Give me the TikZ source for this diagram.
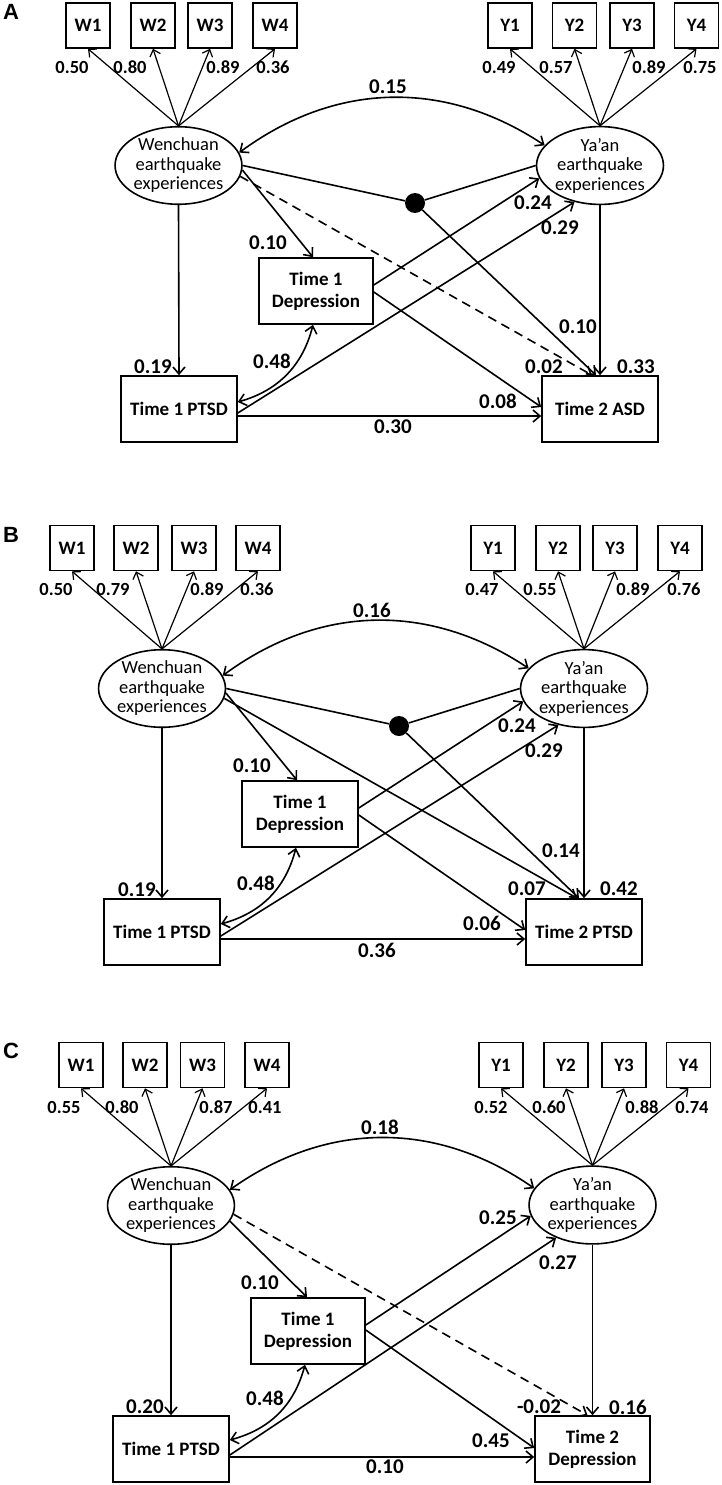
\documentclass[tikz,border=0pt]{standalone}
\usepackage{fontspec}
\setmainfont{Carlito}
\newfontfamily\panelfont{Liberation Sans}
\usetikzlibrary{arrows.meta,shapes.geometric,calc}
\begin{document}
\begin{tikzpicture}[x=1pt,y=-1pt,
  obs/.style={draw,line width=1.6pt,minimum width=44pt,minimum height=45pt,inner sep=0pt,font=\bfseries\fontsize{19}{21}\selectfont},
  lat/.style={draw,ellipse,line width=1.6pt,minimum width=123pt,minimum height=77pt,inner sep=0pt,align=center,font=\fontsize{18.5}{19.5}\selectfont},
  var/.style={draw,line width=1.6pt,minimum width=116pt,minimum height=66pt,inner sep=0pt,align=center,font=\bfseries\fontsize{19}{22}\selectfont},
  ld/.style={inner sep=0pt,font=\bfseries\fontsize{18.5}{18.5}\selectfont},
  cf/.style={inner sep=0pt,font=\bfseries\fontsize{21}{21}\selectfont},
  plab/.style={inner sep=0pt,font=\panelfont\bfseries\fontsize{22}{22}\selectfont},
  dotnode/.style={circle,fill=black,minimum size=20pt,inner sep=0pt},
  load/.style={line width=1.2pt,-{Straight Barb[length=6pt,width=11pt]}},
  pth/.style={line width=1.6pt,-{Straight Barb[length=7pt,width=12pt]}},
  dpth/.style={line width=1.6pt,{Straight Barb[length=7pt,width=12pt]}-{Straight Barb[length=7pt,width=12pt]}},
  plainline/.style={line width=1.6pt},
  dsh/.style={pth,dash pattern=on 9pt off 6pt}
]
\useasboundingbox (0,0) rectangle (721,1485);

%%%%%%%%%%%%%%%% Panel A
\node[plab] (pA) at (11,12) {A};
\node[obs] (aW1) at (88,25.5) {W1};
\node[obs] (aW2) at (153,25.5) {W2};
\node[obs] (aW3) at (210,25.5) {W3};
\node[obs] (aW4) at (275,25.5) {W4};
\node[obs] (aY1) at (510,25.5) {Y1};
\node[obs] (aY2) at (574.5,25.5) {Y2};
\node[obs] (aY3) at (632,25.5) {Y3};
\node[obs] (aY4) at (696.5,25.5) {Y4};
\node[lat] (aWen) at (178.5,165.5) {Wenchuan\\earthquake\\experiences};
\node[lat,minimum width=124pt] (aYa) at (600,165.5) {Ya’an\\earthquake\\experiences};
\node[var,minimum width=114pt] (aDep) at (316,291) {Time 1\\Depression};
\node[var] (aPT) at (179,409) {Time 1 PTSD};
\node[var] (aT2) at (600,409) {Time 2 ASD};
\node[dotnode] (aDot) at (415,203) {};

\foreach \i in {1,...,4} {\draw[load] (aWen.north) -- (aW\i.south); \draw[load] (aYa.north) -- (aY\i.south);}
\draw[dpth] (aWen.12) to[bend left=35] (aYa.160);
\draw[plainline] (aWen.east) -- (aDot);
\draw[plainline] (aDot) -- (aYa.west);
\draw[pth] (aDot) -- ($(aT2.north)+(-4,0)$);
\draw[dsh] (aWen.-10) -- ($(aT2.north)+(-8,0)$);
\draw[pth] (aWen.-4) -- ($(aDep.north)+(-3,0)$);
\draw[pth] (aWen.south) -- (aPT.north);
\draw[dpth] ($(aPT.east)+(0,-7)$) to[bend right=30] ($(aDep.south)+(-3,0)$);
\draw[pth] ($(aPT.east)+(0,4)$) -- (aYa.235);
\draw[pth] ($(aDep.east)+(0,-6)$) -- (aYa.192);
\draw[pth] ($(aDep.east)+(0,1)$) -- ($(aT2.west)+(0,-2)$);
\draw[pth] ($(aPT.east)+(0,7)$) -- ($(aT2.west)+(0,7)$);
\draw[pth] (aYa.south) -- (aT2.north);

\node[ld] (aL1) at (72,67) {0.50};
\node[ld] (aL2) at (130,67) {0.80};
\node[ld] (aL3) at (223,67) {0.89};
\node[ld] (aL4) at (273,67) {0.36};
\node[ld] (aL5) at (499,67) {0.49};
\node[ld] (aL6) at (556,67) {0.57};
\node[ld] (aL7) at (649,67) {0.89};
\node[ld] (aL8) at (700,67) {0.75};
\node[cf] (aC1) at (388,87) {0.15};
\node[cf] (aC2) at (268,243) {0.10};
\node[cf] (aC3) at (533,203) {0.24};
\node[cf] (aC4) at (560,228) {0.29};
\node[cf] (aC5) at (153,367) {0.19};
\node[cf] (aC6) at (272,361) {0.48};
\node[cf] (aC7) at (578,327) {0.10};
\node[cf] (aC8) at (544,367) {0.02};
\node[cf] (aC9) at (636,367) {0.33};
\node[cf] (aC10) at (498,401) {0.08};
\node[cf] (aC11) at (393,427) {0.30};

%%%%%%%%%%%%%%%% Panel B
\node[plab] (pB) at (11,535) {B};
\node[obs] (bW1) at (72,548) {W1};
\node[obs] (bW2) at (136,548) {W2};
\node[obs] (bW3) at (194,548) {W3};
\node[obs] (bW4) at (258,548) {W4};
\node[obs] (bY1) at (493,548) {Y1};
\node[obs] (bY2) at (558,548) {Y2};
\node[obs] (bY3) at (615,548) {Y3};
\node[obs] (bY4) at (680,548) {Y4};
\node[lat] (bWen) at (162,688.5) {Wenchuan\\earthquake\\experiences};
\node[lat,minimum width=124pt] (bYa) at (584,688.5) {Ya’an\\earthquake\\experiences};
\node[var] (bDep) at (300,814) {Time 1\\Depression};
\node[var] (bPT) at (162,932) {Time 1 PTSD};
\node[var] (bT2) at (584,932) {Time 2 PTSD};
\node[dotnode] (bDot) at (399,726) {};

\foreach \i in {1,...,4} {\draw[load] (bWen.north) -- (bW\i.south); \draw[load] (bYa.north) -- (bY\i.south);}
\draw[dpth] (bWen.12) to[bend left=35] (bYa.160);
\draw[plainline] (bWen.east) -- (bDot);
\draw[plainline] (bDot) -- (bYa.west);
\draw[pth] (bDot) -- ($(bT2.north)+(-5,0)$);
\draw[pth] (bWen.-9) -- ($(bT2.north)+(-7,0)$);
\draw[pth] (bWen.-4) -- ($(bDep.north)+(-3,0)$);
\draw[pth] (bWen.south) -- (bPT.north);
\draw[dpth] ($(bPT.east)+(0,-8)$) to[bend right=30] ($(bDep.south)+(-4,0)$);
\draw[pth] ($(bPT.east)+(0,4)$) -- (bYa.235);
\draw[pth] ($(bDep.east)+(0,-6)$) -- (bYa.192);
\draw[pth] ($(bDep.east)+(0,1)$) -- ($(bT2.west)+(0,-2)$);
\draw[pth] ($(bPT.east)+(0,7)$) -- ($(bT2.west)+(0,7)$);
\draw[pth] (bYa.south) -- (bT2.north);

\node[ld] (bL1) at (56,589) {0.50};
\node[ld] (bL2) at (113,589) {0.79};
\node[ld] (bL3) at (207,589) {0.89};
\node[ld] (bL4) at (257,589) {0.36};
\node[ld] (bL5) at (482,589) {0.47};
\node[ld] (bL6) at (540,589) {0.55};
\node[ld] (bL7) at (633,589) {0.89};
\node[ld] (bL8) at (684,589) {0.76};
\node[cf] (bC1) at (372,610) {0.16};
\node[cf] (bC2) at (252,766) {0.10};
\node[cf] (bC3) at (517,726) {0.24};
\node[cf] (bC4) at (544,751) {0.29};
\node[cf] (bC5) at (137,890) {0.19};
\node[cf] (bC6) at (256,883) {0.48};
\node[cf] (bC7) at (561,851) {0.14};
\node[cf] (bC8) at (527,889) {0.07};
\node[cf] (bC9) at (619,889) {0.42};
\node[cf] (bC10) at (482,923) {0.06};
\node[cf] (bC11) at (377,950) {0.36};

%%%%%%%%%%%%%%%% Panel C
\node[plab] (pC) at (11,1051) {C};
\node[obs] (cW1) at (81,1065) {W1};
\node[obs] (cW2) at (145,1065) {W2};
\node[obs] (cW3) at (202.5,1065) {W3};
\node[obs] (cW4) at (267,1065) {W4};
\node[obs] (cY1) at (501,1065) {Y1};
\node[obs] (cY2) at (566,1065) {Y2};
\node[obs] (cY3) at (624,1065) {Y3};
\node[obs] (cY4) at (688.5,1065) {Y4};
\node[lat,minimum width=122pt] (cWen) at (171,1205.5) {Wenchuan\\earthquake\\experiences};
\node[lat] (cYa) at (592.5,1205) {Ya’an\\earthquake\\experiences};
\node[var,minimum width=114pt] (cDep) at (308,1331) {Time 1\\Depression};
\node[var] (cPT) at (171,1449) {Time 1 PTSD};
\node[var,minimum width=115pt] (cT2) at (592.5,1449) {Time 2\\Depression};

\foreach \i in {1,...,4} {\draw[load] (cWen.north) -- (cW\i.south); \draw[load] (cYa.north) -- (cY\i.south);}
\draw[dpth] (cWen.15) to[bend left=35] (cYa.164);
\draw[dsh] (cWen.-8) -- ($(cT2.north)+(-5,0)$);
\draw[pth] (cWen.-15) -- ($(cDep.north)+(-1,0)$);
\draw[pth] (cWen.south) -- (cPT.north);
\draw[dpth] ($(cPT.east)+(0,-9)$) to[bend right=30] ($(cDep.south)+(-3,0)$);
\draw[pth] ($(cPT.east)+(0,6)$) -- (cYa.222);
\draw[pth] ($(cDep.east)+(0,-6)$) -- (cYa.190);
\draw[pth] ($(cDep.east)+(0,-1)$) -- ($(cT2.west)+(0,-1)$);
\draw[pth] ($(cPT.east)+(0,8)$) -- ($(cT2.west)+(0,8)$);
\draw[pth] (cYa.south) -- (cT2.north);

\node[ld] (cL1) at (64,1107) {0.55};
\node[ld] (cL2) at (122,1107) {0.80};
\node[ld] (cL3) at (216,1107) {0.87};
\node[ld] (cL4) at (265,1107) {0.41};
\node[ld] (cL5) at (491,1107) {0.52};
\node[ld] (cL6) at (549,1107) {0.60};
\node[ld] (cL7) at (642,1107) {0.88};
\node[ld] (cL8) at (692,1107) {0.74};
\node[cf] (cC1) at (380,1127) {0.18};
\node[cf] (cC2) at (260,1283) {0.10};
\node[cf] (cC3) at (498,1218) {0.25};
\node[cf] (cC4) at (558,1263) {0.27};
\node[cf] (cC5) at (145,1407) {0.20};
\node[cf] (cC6) at (265,1398) {0.48};
\node[cf] (cC7) at (539,1407) {-0.02};
\node[cf] (cC8) at (628,1407) {0.16};
\node[cf] (cC9) at (491,1441) {0.45};
\node[cf] (cC10) at (385,1467) {0.10};
\end{tikzpicture}
\end{document}
